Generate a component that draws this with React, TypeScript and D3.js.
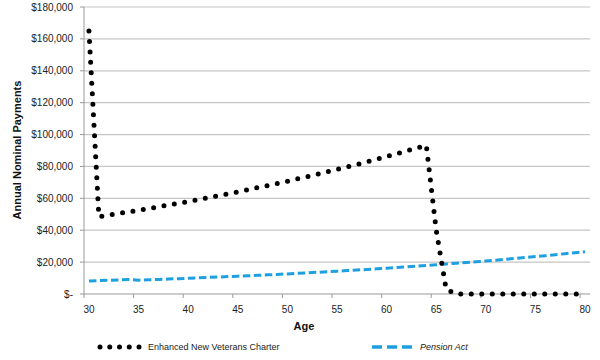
import React from "react";
import * as d3 from "d3";

const ages: number[] = [
  30, 31, 32, 33, 34, 35, 36, 37, 38, 39, 40, 41, 42, 43, 44, 45, 46, 47, 48, 49,
  50, 51, 52, 53, 54, 55, 56, 57, 58, 59, 60, 61, 62, 63, 64, 65, 66, 67, 68, 69,
  70, 71, 72, 73, 74, 75, 76, 77, 78, 79, 80,
];

const enhancedNVC: number[] = [
  165000, 48500, 49500, 50500, 51500, 52500, 53600, 54700, 55800, 56900,
  58000, 59200, 60400, 61600, 62800, 64100, 65300, 66700, 68000, 69400,
  70700, 72200, 73600, 75100, 76600, 78100, 79600, 81200, 82900, 84500,
  86200, 88000, 89700, 91500, 93300, 40000, 3000, 0, 0, 0,
  0, 0, 0, 0, 0, 0, 0, 0, 0, 0, 0,
];

const pensionAct: number[] = [
  8200, 8400, 8600, 8800, 9100, 8700, 8900, 9100, 9400, 9600,
  9900, 10100, 10400, 10600, 10900, 11200, 11400, 11700, 12000, 12300,
  12600, 13000, 13300, 13600, 14000, 14300, 14700, 15000, 15400, 15800,
  16200, 16600, 17000, 17400, 17900, 18300, 18800, 19300, 19700, 20200,
  20700, 21200, 21800, 22300, 22900, 23500, 24000, 24600, 25300, 25900, 26500,
];

const yTicks: number[] = [0, 20000, 40000, 60000, 80000, 100000, 120000, 140000, 160000, 180000];
const xLabelAges: number[] = [30, 35, 40, 45, 50, 55, 60, 65, 70, 75, 80];

const seriesNames = ["Enhanced New Veterans Charter", "Pension Act"];

const FONT = "'Liberation Sans', Arial, sans-serif";
const BLUE = "#1ea0e0";

export default function App() {
  const left = 84;
  const right = 590;
  const top = 7;
  const bottom = 294;

  const x = d3.scaleBand<number>().domain(ages).range([left, right]).padding(0);
  const cx = (a: number) => (x(a) as number) + x.bandwidth() / 2;
  const y = d3.scaleLinear().domain([0, 180000]).range([bottom, top]);

  const line = d3
    .line<number>()
    .x((_, i) => cx(ages[i]))
    .y((v) => y(v));

  const fmt = (v: number) => (v === 0 ? "$-" : "$" + d3.format(",")(v));

  const legendDots = d3.range(5).map((i) => 100 + i * 9.75);

  return (
    <svg
      width={600}
      height={360}
      style={{ position: "absolute", left: 0, top: 0, background: "#fff" }}
      fontFamily={FONT}
    >
      {yTicks.slice(1).map((t) => (
        <line key={"g" + t} x1={left} x2={right} y1={y(t)} y2={y(t)} stroke="#c6c6c6" strokeWidth={1.2} />
      ))}
      <line x1={left} x2={left} y1={top} y2={bottom} stroke="#9a9a9a" strokeWidth={1} />
      {yTicks.map((t) => (
        <g key={"y" + t}>
          <line x1={left - 4} x2={left} y1={y(t)} y2={y(t)} stroke="#9a9a9a" />
          <text x={73} y={y(t)} dy="0.35em" textAnchor="end" fontSize={10} fill="#222">
            {fmt(t)}
          </text>
        </g>
      ))}
      <line x1={left} x2={right} y1={bottom} y2={bottom} stroke="#9a9a9a" strokeWidth={1} />
      {xLabelAges.map((a) => (
        <g key={"x" + a}>
          <line x1={x(a) as number} x2={x(a) as number} y1={bottom} y2={bottom + 4} stroke="#9a9a9a" />
          <text x={cx(a)} y={bottom + 19} textAnchor="middle" fontSize={10} fill="#222">
            {a}
          </text>
        </g>
      ))}

      <path
        d={line(pensionAct) || ""}
        fill="none"
        stroke={BLUE}
        strokeWidth={3}
        strokeDasharray="7.5 3.5"
      />
      <path
        d={line(enhancedNVC) || ""}
        fill="none"
        stroke="#000"
        strokeWidth={5}
        strokeLinecap="round"
        strokeLinejoin="round"
        strokeDasharray="0 10.5"
      />

      <text x={304} y={330} textAnchor="middle" fontSize={11} fontWeight="bold" fill="#111">
        Age
      </text>
      <text
        transform={`translate(21, 150) rotate(-90)`}
        textAnchor="middle"
        fontSize={11}
        fontWeight="bold"
        fill="#111"
      >
        Annual Nominal Payments
      </text>

      {legendDots.map((lx, i) => (
        <circle key={"ld" + i} cx={lx} cy={347} r={2.5} fill="#000" />
      ))}
      <text x={148} y={347} dy="0.35em" fontSize={9} fill="#222">
        {seriesNames[0]}
      </text>
      <path d="M372,347 L412,347" stroke={BLUE} strokeWidth={3.5} strokeDasharray="10 5" />
      <text x={420} y={347} dy="0.35em" fontSize={9} fontStyle="italic" fill="#222">
        {seriesNames[1]}
      </text>
    </svg>
  );
}
